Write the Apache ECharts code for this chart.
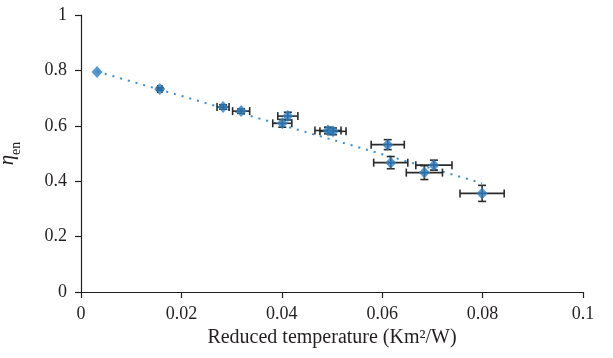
<!DOCTYPE html>
<html>
<head>
<meta charset="utf-8">
<script src="https://cdn.jsdelivr.net/npm/echarts@6/dist/echarts.min.js"></script>
<style>
html,body{margin:0;padding:0;background:#fff;}
#chart{width:613px;height:358px;}
</style>
</head>
<body>
<div id="chart"></div>
<script>
// Reduced temperature (Km2/W)
var xVals = [0.0032, 0.0157, 0.0283, 0.0319, 0.0412, 0.0401, 0.0492, 0.0502, 0.0611, 0.0617, 0.0703, 0.0684, 0.0799];
// eta_en
var yVals = [0.794, 0.733, 0.668, 0.653, 0.635, 0.609, 0.583, 0.580, 0.532, 0.467, 0.458, 0.431, 0.356];
// error half-widths
var xErr = [0, 0.0004, 0.0012, 0.0017, 0.0020, 0.0019, 0.0026, 0.0026, 0.0033, 0.0034, 0.0036, 0.0036, 0.0044];
var yErr = [0, 0.005, 0.008, 0.008, 0.014, 0.014, 0.012, 0.012, 0.018, 0.022, 0.018, 0.025, 0.029];
// dotted trend line end points
var trendX = [0.0032, 0.0799];
var trendY = [0.796, 0.393];
// tick labels
var xTicks = ['0', '0.02', '0.04', '0.06', '0.08', '0.1'];
var yTicks = ['0', '0.2', '0.4', '0.6', '0.8', '1'];

var pts = xVals.map(function (x, i) { return [x, yVals[i]]; });
var errData = xVals.map(function (x, i) { return [x, yVals[i], xErr[i], yErr[i]]; });
var trendData = trendX.map(function (x, i) { return [x, trendY[i]]; });

var FONT = '"Liberation Serif", "DejaVu Serif", serif';
var TXT = '#231f20';
var BLUE = '#2c7dc2';

function renderErr(params, api) {
  var x = api.value(0), y = api.value(1), ex = api.value(2), ey = api.value(3);
  var children = [];
  var st = { stroke: '#2b2b2b', lineWidth: 1.6 };
  var cap = 4;
  if (ex > 0) {
    var l = api.coord([x - ex, y]), r = api.coord([x + ex, y]);
    children.push({ type: 'line', shape: { x1: l[0], y1: l[1], x2: r[0], y2: r[1] }, style: st });
    children.push({ type: 'line', shape: { x1: l[0], y1: l[1] - cap, x2: l[0], y2: l[1] + cap }, style: st });
    children.push({ type: 'line', shape: { x1: r[0], y1: r[1] - cap, x2: r[0], y2: r[1] + cap }, style: st });
  }
  if (ey > 0) {
    var t = api.coord([x, y + ey]), b = api.coord([x, y - ey]);
    children.push({ type: 'line', shape: { x1: t[0], y1: t[1], x2: b[0], y2: b[1] }, style: st });
    children.push({ type: 'line', shape: { x1: t[0] - cap, y1: t[1], x2: t[0] + cap, y2: t[1] }, style: st });
    children.push({ type: 'line', shape: { x1: b[0] - cap, y1: b[1], x2: b[0] + cap, y2: b[1] }, style: st });
  }
  return { type: 'group', children: children };
}

var chart = echarts.init(document.getElementById('chart'), null, { renderer: 'canvas' });
chart.setOption({
  animation: false,
  backgroundColor: '#fff',
  grid: { left: 81, right: 30, top: 15, bottom: 66, containLabel: false, outerBoundsMode: 'none' },
  xAxis: {
    type: 'value', min: 0, max: 0.1, interval: 0.02,
    axisLine: { show: true, lineStyle: { color: TXT, width: 1.2 } },
    axisTick: { show: true, length: 6, lineStyle: { color: TXT, width: 1.2 } },
    splitLine: { show: false },
    axisLabel: {
      margin: 13, color: TXT, fontFamily: FONT, fontSize: 18,
      formatter: function (v) { return xTicks[Math.round(v / 0.02)]; }
    },
    name: 'Reduced temperature (Km²/W)',
    nameLocation: 'middle', nameGap: 30,
    nameTextStyle: { color: TXT, fontFamily: FONT, fontSize: 20 }
  },
  yAxis: {
    type: 'value', min: 0, max: 1, interval: 0.2,
    axisLine: { show: true, lineStyle: { color: TXT, width: 1.2 } },
    axisTick: { show: true, length: 6, lineStyle: { color: TXT, width: 1.2 } },
    splitLine: { show: false },
    axisLabel: {
      margin: 14, color: TXT, fontFamily: FONT, fontSize: 18,
      formatter: function (v) { return yTicks[Math.round(v / 0.2)]; }
    },
    name: '{eta|η}{sub|en}',
    nameLocation: 'middle', nameGap: 58, nameRotate: 90,
    nameTextStyle: {
      color: TXT, fontFamily: FONT, fontSize: 18,
      rich: {
        eta: { fontFamily: FONT, fontSize: 21, fontStyle: 'italic', color: TXT, lineHeight: 26, verticalAlign: 'top' },
        sub: { fontFamily: FONT, fontSize: 14, color: TXT, lineHeight: 26, verticalAlign: 'bottom', padding: [8, 0, 0, 0] }
      }
    }
  },
  series: [
    {
      type: 'line', data: trendData, symbol: 'none', z: 1,
      lineStyle: { color: '#3a8ed3', width: 2, type: [2, 6] }
    },
    {
      type: 'custom', data: errData, renderItem: renderErr, z: 2,
      encode: { x: 0, y: 1 }
    },
    {
      type: 'scatter', data: pts, symbol: 'diamond', symbolSize: [11, 12], z: 3,
      itemStyle: { color: BLUE }
    }
  ]
});
</script>
</body>
</html>
